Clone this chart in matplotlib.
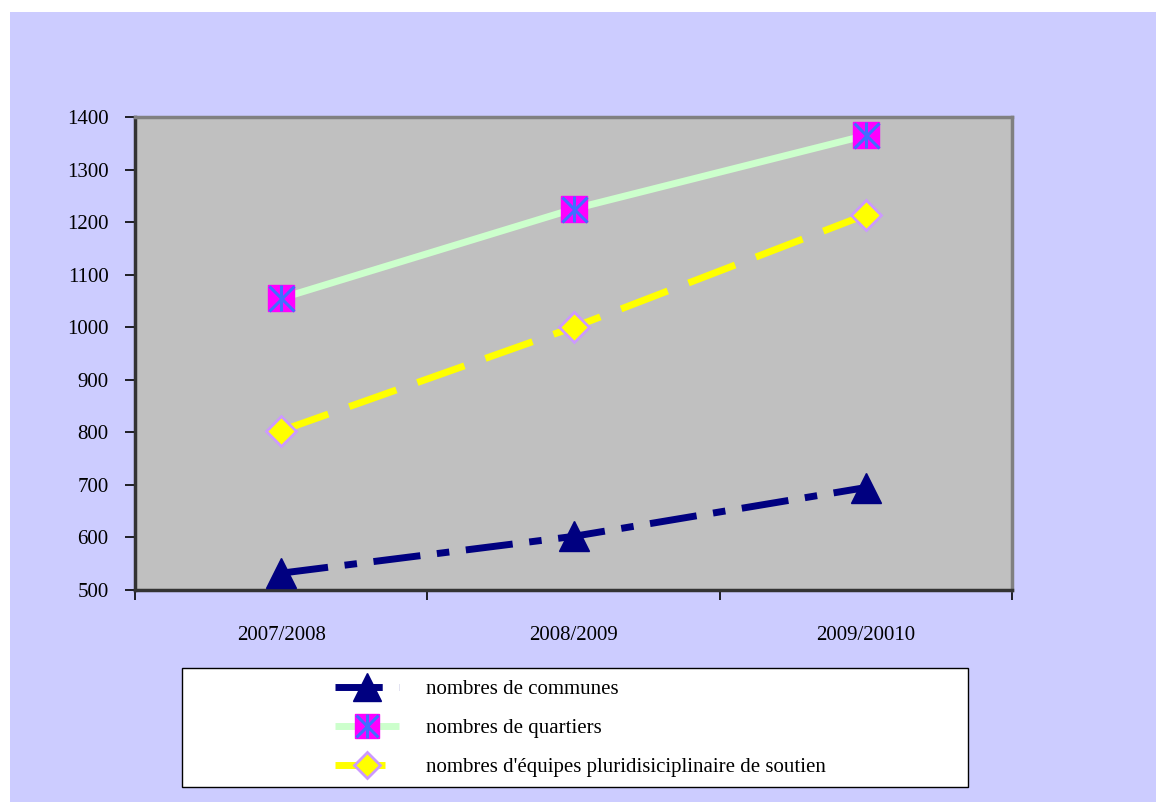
import matplotlib.pyplot as plt
from matplotlib.patches import Rectangle
from matplotlib.legend_handler import HandlerTuple

plt.rcParams['font.family'] = ['Liberation Serif', 'DejaVu Serif']
plt.rcParams['lines.scale_dashes'] = False

seasons = ['2007/2008', '2008/2009', '2009/20010']
communes = [532, 602, 695]
quartiers = [1055, 1225, 1365]
equipes = [803, 1000, 1214]

fig = plt.figure(figsize=(11.56, 8.02), dpi=100)
fig.patch.set_facecolor('white')
fig.patches.append(Rectangle((10 / 1156, 0), 1 - 10 / 1156, 1 - 12 / 802,
                             transform=fig.transFigure, facecolor='#CCCCFF',
                             edgecolor='none', zorder=-10))

ax = fig.add_axes([135 / 1156, 212 / 802, 877 / 1156, 473 / 802])
ax.set_facecolor('#C0C0C0')
x = range(len(seasons))

l1, = ax.plot(x, communes, color='#000080', lw=5, dashes=(34, 12, 9, 12),
              marker='^', ms=22, mfc='#000080', mec='#000080', zorder=3)
l2, = ax.plot(x, quartiers, color='#CCFFCC', lw=5, solid_capstyle='butt',
              marker='s', ms=19, mfc='#FF00FF', mec='#FF00FF', zorder=3)
m2a, = ax.plot(x, quartiers, ls='none', marker='x', ms=18, mew=2.2,
               color='#3F6FFF', zorder=4)
m2b, = ax.plot(x, quartiers, ls='none', marker='|', ms=19, mew=2.2,
               color='#3F6FFF', zorder=4)
l3, = ax.plot(x, equipes, color='#FFFF00', lw=5, dashes=(36, 16),
              marker='D', ms=15, mfc='#FFFF00', mec='#CC99FF', mew=2, zorder=3)

ax.set_xlim(-0.5, 2.5)
ax.set_ylim(500, 1400)
ax.set_yticks(range(500, 1401, 100))
ax.set_xticks([-0.5, 0.5, 1.5, 2.5])
ax.set_xticklabels([])
ax.set_xticks(list(x), minor=True)
ax.set_xticklabels(seasons, minor=True, fontsize=15)
ax.tick_params(axis='x', which='minor', length=0, pad=26)
ax.tick_params(axis='x', which='major', direction='out', length=7, width=1.2)
ax.tick_params(axis='y', direction='out', length=7, width=1.2, labelsize=15, pad=12)

for side in ['top', 'right']:
    ax.spines[side].set_color('#808080')
    ax.spines[side].set_linewidth(2.5)
for side in ['left', 'bottom']:
    ax.spines[side].set_color('#333333')
    ax.spines[side].set_linewidth(2.5)

fig.patches.append(Rectangle((182 / 1156, 15 / 802), 786 / 1156, 119 / 802,
                             transform=fig.transFigure, facecolor='white',
                             edgecolor='black', lw=1, zorder=1))
leg = fig.legend([l1, (l2, m2a, m2b), l3],
                 ['nombres de communes', 'nombres de quartiers',
                  "nombres d'équipes pluridisiciplinaire de soutien"],
                 handler_map={tuple: HandlerTuple(ndivide=1, pad=0)},
                 loc='upper left', bbox_to_anchor=(316 / 1156, 141 / 802),
                 frameon=False, fontsize=15, handlelength=3.1,
                 handletextpad=1.3, labelspacing=0.92, markerscale=0.9)
leg.set_zorder(2)

fig.savefig('out.png', dpi=100, facecolor=fig.get_facecolor())
